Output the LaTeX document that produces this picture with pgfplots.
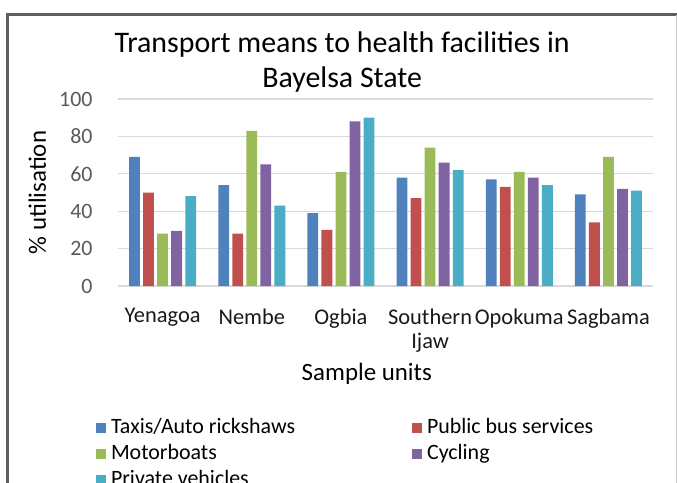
\documentclass[border=0pt]{standalone}
\usepackage{pgfplots}
\pgfplotsset{compat=1.18}
\usepackage{fontspec}
\setmainfont{Carlito}
\definecolor{cBlue}{HTML}{4F81BD}
\definecolor{cRed}{HTML}{C0504D}
\definecolor{cGreen}{HTML}{9BBB59}
\definecolor{cPurple}{HTML}{8064A2}
\definecolor{cCyan}{HTML}{4BACC6}
\definecolor{tickgray}{HTML}{595959}
\definecolor{framegray}{HTML}{5F5F5F}
\begin{document}
\begin{tikzpicture}
\path[use as bounding box] (0,0) rectangle (677bp,483bp);
\clip (0,0) rectangle (677bp,483bp);
\draw[framegray, line width=3bp] (7.5bp,-10bp) -- (7.5bp,468bp) -- (677bp,468bp);
\draw[gray!40, line width=1bp] (676bp,468bp) -- (676bp,-10bp);
\begin{axis}[
  at={(118bp,197bp)}, anchor=south west,
  scale only axis, width=535bp, height=187bp,
  ymin=0, ymax=100, ytick={0,20,...,100},
  xmin=-0.5, xmax=5.5, xtick={0,...,5},
  xticklabels={Yenagoa,Nembe,Ogbia,{Southern\\Ijaw},Opokuma,Sagbama},
  xticklabel style={align=center, font=\fontsize{22.5}{25}\selectfont, text=black!90, yshift=-19bp},
  yticklabel style={font=\fontsize{22}{25}\selectfont, text=tickgray, xshift=-22bp},
  /pgf/number format/assume math mode=true,
  major tick length=0pt,
  axis line style={draw=none},
  ymajorgrids, grid style={gray!30, line width=1.2bp},
  ybar=3.25bp, bar width=10.8bp,
  every axis plot/.append style={draw=none},
  title={Transport means to health facilities in\\Bayelsa State},
  title style={at={(axis description cs:0.419,1.165)}, anchor=center, align=center, font=\fontsize{30}{35}\selectfont, text=black},
  ylabel={\% utilisation},
  every axis y label/.style={at={(axis description cs:-0.151,0.5)}, rotate=90, anchor=center, font=\fontsize{25}{28}\selectfont, text=black},
  xlabel={Sample units},
  every axis x label/.style={at={(axis description cs:0.465,-0.47)}, anchor=center, font=\fontsize{25}{28}\selectfont, text=black},
  legend columns=2,
  legend cell align=left,
  legend image code/.code={\fill[#1] (0bp,-5bp) rectangle (10bp,5bp);},
  legend style={at={(axis description cs:-0.048,-0.679)}, anchor=north west, draw=none, fill=none,
    font=\fontsize{22}{25}\selectfont,
    nodes={text height=15bp, text depth=4bp, inner sep=3.5bp},
    /tikz/every odd column/.append style={column sep=2bp},
    /tikz/every even column/.append style={column sep=113bp}},
]
\addplot[fill=cBlue] coordinates {(0,69) (1,54) (2,39) (3,58) (4,57) (5,49)};
\addplot[fill=cRed] coordinates {(0,50) (1,28) (2,30) (3,47) (4,53) (5,34)};
\addplot[fill=cGreen] coordinates {(0,28) (1,83) (2,61) (3,74) (4,61) (5,69)};
\addplot[fill=cPurple] coordinates {(0,29.5) (1,65) (2,88) (3,66) (4,58) (5,52)};
\addplot[fill=cCyan] coordinates {(0,48) (1,43) (2,90) (3,62) (4,54) (5,51)};
\legend{Taxis/Auto rickshaws,Public bus services,Motorboats,Cycling,Private vehicles}
\end{axis}
\end{tikzpicture}
\end{document}
